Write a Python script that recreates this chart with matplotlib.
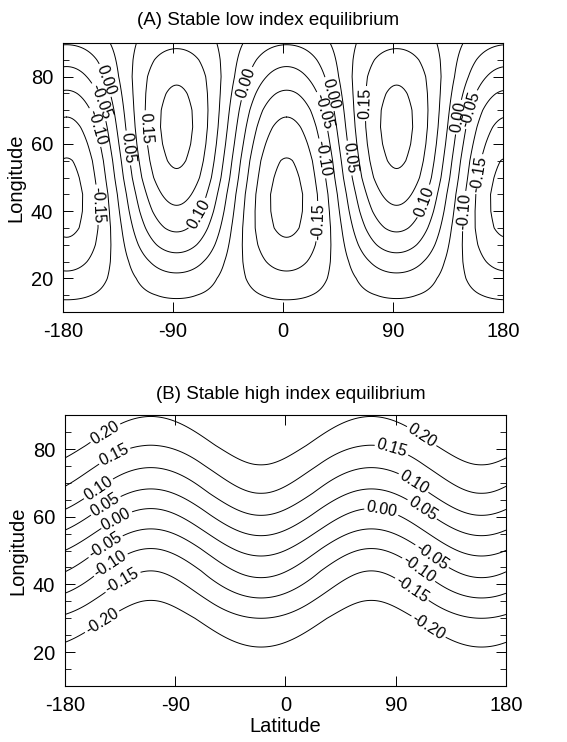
import numpy as np
import matplotlib.pyplot as plt
from matplotlib.ticker import MultipleLocator

plt.rcParams['font.family'] = ['Liberation Sans', 'DejaVu Sans']
plt.rcParams['axes.unicode_minus'] = False
plt.rcParams['contour.negative_linestyle'] = 'solid'

# contour values used in both panels
levels = [-0.20, -0.15, -0.10, -0.05, 0.00, 0.05, 0.10, 0.15, 0.20]

# (A) low index: streamfunction profile through the ridge column and the trough column
lat_nodes = [10, 15, 20, 25, 30, 35, 40, 45, 50, 55, 60, 65, 70, 75, 80, 85, 90]
ridge_a = [-0.07, -0.045, -0.013, 0.027, 0.071, 0.109, 0.141, 0.167, 0.192,
           0.207, 0.216, 0.22, 0.217, 0.207, 0.193, 0.17, 0.14]
trough_a = [-0.08, -0.1075, -0.1375, -0.166, -0.192, -0.21, -0.218, -0.22,
            -0.213, -0.203, -0.185, -0.165, -0.14, -0.107, -0.071, -0.036, 0.004]
ridge_lon_a = 93

# (B) high index: latitude of every contour at its crest and at its trough
crest_b = [35.3, 44.0, 50.6, 56.4, 62.4, 68.2, 74.5, 81.1, 89.6]
trough_b = [21.5, 30.0, 36.0, 42.0, 48.4, 54.4, 60.4, 66.9, 75.3]
crest_lon_b = 70

# label positions (level, lon, lat)
labels_a = [(0.00, -141, 79.5), (-0.05, -146, 73), (-0.10, -147, 65.5),
            (-0.15, -147, 42), (0.05, -122, 59), (0.15, -106, 65),
            (0.10, -68, 39), (0.00, -30, 78), (-0.15, 29, 37),
            (-0.10, 37, 56), (-0.05, 36, 70), (0.00, 40, 75),
            (0.05, 59, 56), (0.15, 68, 72), (0.10, 115, 43),
            (0.00, 143, 68), (-0.05, 147, 71), (-0.10, 149, 40),
            (-0.15, 161, 51)]
labels_b = [(0.20, -149, 85.8), (0.15, -140, 78.3), (0.10, -154, 68.9),
            (0.05, -147, 63.4), (0.00, -140, 60.4), (-0.05, -149, 52.4),
            (-0.10, -144, 46.5), (-0.15, -134, 41.5), (-0.20, -149, 28.6),
            (0.20, 113, 84.8), (0.15, 87, 80.3), (0.10, 106, 70.8),
            (0.00, 79, 62.9), (0.05, 112, 62.4), (-0.05, 120, 48.5),
            (-0.10, 109, 44.5), (-0.15, 105, 39.5), (-0.20, 116, 27.1)]

lon = np.linspace(-180, 180, 241)
lat = np.linspace(10, 90, 161)
X, Y = np.meshgrid(lon, lat)


def wave_field(col_hi, col_lo, lon0):
    # zonal mean plus a wavenumber-2 wave between two column profiles
    mean = 0.5 * (col_hi + col_lo)
    amp = 0.5 * (col_hi - col_lo)
    return mean[:, None] + amp[:, None] * np.cos(np.radians(2 * (X - lon0)))


def column_from_levels(lats, vals):
    lats = np.r_[lats[0] - 30, lats, lats[-1] + 30]
    vals = np.r_[vals[0] - 0.15, vals, vals[-1] + 0.15]
    return np.interp(lat, lats, vals)


psi_a = wave_field(np.interp(lat, lat_nodes, ridge_a),
                   np.interp(lat, lat_nodes, trough_a), ridge_lon_a)
psi_b = wave_field(column_from_levels(trough_b, levels),
                   column_from_levels(crest_b, levels), crest_lon_b + 90)

fig = plt.figure(figsize=(5.67, 7.42), dpi=100)
ax_a = fig.add_axes([0.111, 0.5795, 0.776, 0.3625])
ax_b = fig.add_axes([0.1146, 0.0755, 0.7778, 0.365])

for ax, psi, labs in [(ax_a, psi_a, labels_a), (ax_b, psi_b, labels_b)]:
    # one contour set per level so each label lands on its own line
    sets = {}
    for lev in levels:
        if psi.min() < lev < psi.max():
            sets[lev] = ax.contour(X, Y, psi, levels=[lev], colors='k',
                                   linewidths=0.7, linestyles='solid')
    for lev, lx, ly in labs:
        ax.clabel(sets[lev], manual=[(lx, ly)], fmt='%.2f',
                  fontsize=11.5, inline=True, inline_spacing=2)
    ax.set_xlim(-180, 180)
    ax.set_ylim(10, 90)
    ax.set_xticks([-180, -90, 0, 90, 180])
    ax.set_yticks([20, 40, 60, 80])
    ax.yaxis.set_minor_locator(MultipleLocator(5))
    ax.tick_params(which='both', direction='in', top=True, right=True,
                   labelsize=14.5, pad=7)
    ax.tick_params(which='major', length=7, width=0.7)
    ax.tick_params(which='minor', length=4, width=0.6)
    for sp in ax.spines.values():
        sp.set_linewidth(0.8)
    ax.set_ylabel('Longitude', fontsize=14.5, labelpad=4)

ax_b.set_xlabel('Latitude', fontsize=14.5, labelpad=2)
fig.text(0.473, 0.972, '(A) Stable low index equilibrium', ha='center',
         va='center', fontsize=13.5)
fig.text(0.513, 0.468, '(B) Stable high index equilibrium', ha='center',
         va='center', fontsize=13.5)

fig.savefig('out.png', dpi=100)
